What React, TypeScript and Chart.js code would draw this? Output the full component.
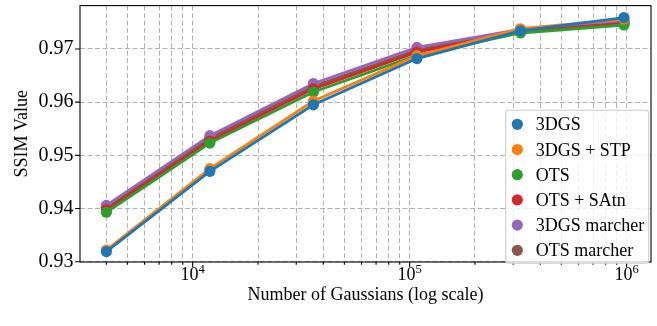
import React, { useEffect, useRef } from "react";
import { Chart, registerables } from "chart.js";

Chart.register(...registerables);

const gaussianCounts = [4000, 12000, 36000, 108000, 324000, 972000];
const seriesLabels = ["3DGS", "3DGS + STP", "OTS", "OTS + SAtn", "3DGS marcher", "OTS marcher"];
const ssim3DGS = [0.9319, 0.947, 0.9595, 0.9682, 0.9734, 0.9759];
const ssim3DGSSTP = [0.9322, 0.9475, 0.9602, 0.9687, 0.9738, 0.9756];
const ssimOTS = [0.9393, 0.9523, 0.9619, 0.9688, 0.973, 0.9745];
const ssimOTSSAtn = [0.9398, 0.9527, 0.9625, 0.9694, 0.9733, 0.9748];
const ssim3DGSMarcher = [0.9406, 0.9537, 0.9635, 0.9703, 0.9737, 0.9753];
const ssimOTSMarcher = [0.9402, 0.9532, 0.963, 0.9698, 0.9735, 0.975];
const seriesColors = ["#1f77b4", "#ff7f0e", "#2ca02c", "#d62728", "#9467bd", "#8c564b"];
const yTickValues = [0.93, 0.94, 0.95, 0.96, 0.97];
const xMajorTicks = [10000, 100000, 1000000];
const xMajorExponents = ["4", "5", "6"];
const xMinorTicks = [
  4000, 5000, 6000, 7000, 8000, 9000,
  20000, 30000, 40000, 50000, 60000, 70000, 80000, 90000,
  200000, 300000, 400000, 500000, 600000, 700000, 800000, 900000,
];
const xTitle = "Number of Gaussians (log scale)";
const yTitle = "SSIM Value";

const FONT = "'Liberation Serif', 'Times New Roman', serif";

const decorPlugin = {
  id: "decor",
  afterDraw(chart: any) {
    const { ctx, chartArea: a, scales } = chart;
    const xs = scales.x;
    const ys = scales.y;
    ctx.save();
    ctx.setLineDash([]);
    // axes box
    ctx.strokeStyle = "#000";
    ctx.lineWidth = 1.1;
    ctx.strokeRect(a.left, a.top, a.right - a.left, a.bottom - a.top);
    // tick marks
    ctx.beginPath();
    yTickValues.forEach((v) => {
      const py = ys.getPixelForValue(v);
      ctx.moveTo(a.left - 4.9, py);
      ctx.lineTo(a.left, py);
    });
    xMajorTicks.forEach((v) => {
      const px = xs.getPixelForValue(v);
      ctx.moveTo(px, a.bottom);
      ctx.lineTo(px, a.bottom + 4.9);
    });
    xMinorTicks.forEach((v) => {
      const px = xs.getPixelForValue(v);
      ctx.moveTo(px, a.bottom);
      ctx.lineTo(px, a.bottom + 2.8);
    });
    ctx.stroke();

    ctx.fillStyle = "#000";
    // y tick labels
    ctx.font = `20px ${FONT}`;
    ctx.textAlign = "right";
    ctx.textBaseline = "middle";
    yTickValues.forEach((v) => {
      ctx.fillText(v.toFixed(2), a.left - 6.5, ys.getPixelForValue(v));
    });
    // x tick labels
    ctx.textAlign = "left";
    ctx.textBaseline = "alphabetic";
    xMajorTicks.forEach((v, i) => {
      const px = xs.getPixelForValue(v);
      ctx.font = `18px ${FONT}`;
      const w1 = ctx.measureText("10").width;
      ctx.font = `12.6px ${FONT}`;
      const w2 = ctx.measureText(xMajorExponents[i]).width;
      const start = px - (w1 + w2) / 2;
      ctx.font = `18px ${FONT}`;
      ctx.fillText("10", start, a.bottom + 18);
      ctx.font = `12.6px ${FONT}`;
      ctx.fillText(xMajorExponents[i], start + w1, a.bottom + 11);
    });
    // x title
    ctx.font = `18px ${FONT}`;
    ctx.textAlign = "center";
    ctx.fillText(xTitle, (a.left + a.right) / 2, a.bottom + 38);
    // y title
    ctx.save();
    ctx.translate(26.5, (a.top + a.bottom) / 2);
    ctx.rotate(-Math.PI / 2);
    ctx.fillText(yTitle, 0, 0);
    ctx.restore();

    // legend
    const lx = a.left + 425.7;
    const ly = a.top + 104.7;
    const lw = 143;
    const lh = 153;
    ctx.beginPath();
    ctx.roundRect(lx, ly, lw, lh, 3);
    ctx.fillStyle = "rgba(255,255,255,0.8)";
    ctx.fill();
    ctx.strokeStyle = "#cccccc";
    ctx.lineWidth = 1.1;
    ctx.stroke();
    ctx.textAlign = "left";
    ctx.textBaseline = "alphabetic";
    ctx.font = `18px ${FONT}`;
    seriesLabels.forEach((label, i) => {
      const cy = ly + 14 + i * 25.2;
      ctx.beginPath();
      ctx.arc(lx + 11.6, cy, 5.6, 0, Math.PI * 2);
      ctx.fillStyle = seriesColors[i];
      ctx.fill();
      ctx.fillStyle = "#000";
      ctx.fillText(label, lx + 30, cy + 6);
    });
    ctx.restore();
  },
};

export default function App() {
  const canvasRef = useRef<HTMLCanvasElement | null>(null);

  useEffect(() => {
    document.body.style.margin = "0";
    const canvas = canvasRef.current;
    if (!canvas) return;
    const seriesValues = [ssim3DGS, ssim3DGSSTP, ssimOTS, ssimOTSSAtn, ssim3DGSMarcher, ssimOTSMarcher];
    const chart = new Chart(canvas, {
      type: "line",
      data: {
        datasets: seriesLabels.map((label, i) => ({
          label,
          data: gaussianCounts.map((x, j) => ({ x, y: seriesValues[i][j] })),
          borderColor: seriesColors[i],
          backgroundColor: seriesColors[i],
          pointBackgroundColor: seriesColors[i],
          pointBorderWidth: 0,
          pointRadius: 5.6,
          borderWidth: 2.8,
          tension: 0,
          fill: false,
        })),
      },
      options: {
        animation: false,
        responsive: false,
        devicePixelRatio: 1,
        layout: { padding: { left: 0, right: 6, top: 2, bottom: 0 } },
        plugins: { legend: { display: false }, tooltip: { enabled: false } },
        scales: {
          x: {
            type: "logarithmic",
            min: 3024,
            max: 1295000,
            afterBuildTicks: (s: any) => {
              s.ticks = [...xMinorTicks, ...xMajorTicks]
                .sort((p, q) => p - q)
                .map((v) => ({ value: v }));
            },
            afterFit: (s: any) => {
              s.height = 64;
            },
            ticks: { display: false },
            grid: { color: "#b0b0b0", lineWidth: 1, drawTicks: false },
            border: { display: false, dash: [5, 2.5] },
          },
          y: {
            type: "linear",
            min: 0.92995,
            max: 0.97815,
            afterBuildTicks: (s: any) => {
              s.ticks = yTickValues.map((v) => ({ value: v }));
            },
            afterFit: (s: any) => {
              s.width = 80;
            },
            ticks: { display: false },
            grid: { color: "#b0b0b0", lineWidth: 1, drawTicks: false },
            border: { display: false, dash: [5, 2.5] },
          },
        },
      },
      plugins: [decorPlugin],
    });
    return () => chart.destroy();
  }, []);

  return <canvas ref={canvasRef} width={657} height={326} style={{ display: "block" }} />;
}
